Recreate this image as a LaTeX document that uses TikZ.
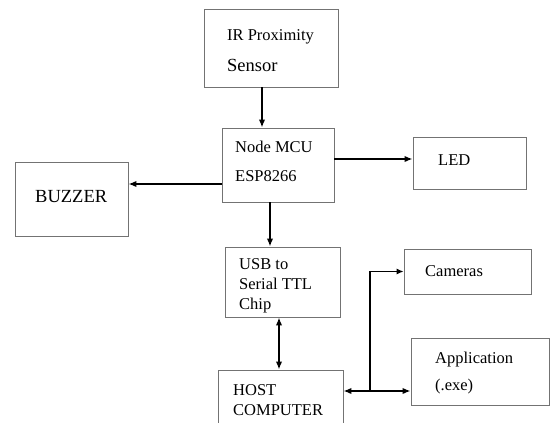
\documentclass[tikz,border=0pt]{standalone}
\usepackage{fontspec}
\setmainfont{Liberation Serif}
\usetikzlibrary{arrows.meta}
\begin{document}
\begin{tikzpicture}[x=1pt,y=-1pt,
  box/.style={draw=black!55,line width=0.9pt,rectangle,inner sep=0pt},
  lbl/.style={anchor=base west,inner sep=0pt,text=black,font=\fontsize{16.5}{18}\selectfont},
  big/.style={lbl,font=\fontsize{18.5}{20}\selectfont},
  tip/.style={Latex[length=8pt,width=6.5pt]},
  arr/.style={line width=1.7pt,-{Latex[length=8pt,width=6.5pt]}},
  darr/.style={line width=1.7pt,{Latex[length=8pt,width=6.5pt]}-{Latex[length=8pt,width=6.5pt]}},
  thin/.style={line width=1.1pt,-{Latex[length=7pt,width=6pt]}}]
\clip (0,0) rectangle (550,423);
\fill[white] (0,0) rectangle (550,423);
% boxes
\node[box,minimum width=134pt,minimum height=78pt] (ir) at (271,48) {};
\node[box,minimum width=112pt,minimum height=74pt] (mcu) at (278,165) {};
\node[box,minimum width=113pt,minimum height=52pt] (led) at (469.5,163) {};
\node[box,minimum width=113pt,minimum height=74pt] (buz) at (71.5,199) {};
\node[box,minimum width=115pt,minimum height=70pt] (usb) at (282.5,282) {};
\node[box,minimum width=127pt,minimum height=45pt] (cam) at (467.5,271.5) {};
\node[box,minimum width=138pt,minimum height=67pt] (app) at (480,371.5) {};
\node[box,minimum width=125pt,minimum height=70pt] (host) at (280.5,405) {};
% texts
\node[lbl] (t1) at (227,40) {IR Proximity};
\node[big] (t2) at (227,71) {Sensor};
\node[lbl] (t3) at (235,152) {Node MCU};
\node[lbl] (t4) at (235,181) {ESP8266};
\node[lbl] (t5) at (438,165) {LED};
\node[big] (t6) at (35,202) {BUZZER};
\node[lbl] (t7) at (239,269) {USB to};
\node[lbl] (t8) at (239,289) {Serial TTL};
\node[lbl] (t9) at (239,309) {Chip};
\node[lbl] (t10) at (425,276) {Cameras};
\node[lbl] (t11) at (435,363) {Application};
\node[lbl] (t12) at (435,390) {(.exe)};
\node[lbl] (t13) at (233,395) {HOST};
\node[lbl] (t14) at (233,415) {COMPUTER};
% connectors
\draw[arr] ([xshift=-9pt]ir.south) -- ([xshift=-9pt]ir.south |- mcu.north);
\draw[arr] (mcu.east |- 0,159) -- (led.west |- 0,159);
\draw[arr] (mcu.west |- 0,184) -- (buz.east |- 0,184);
\draw[arr] ([xshift=-8pt]mcu.south) -- ([xshift=-8pt]mcu.south |- usb.north);
\draw[darr] ([xshift=-3.5pt]usb.south) -- ([xshift=-3.5pt]usb.south |- host.north);
\coordinate (br) at (370,391);
\draw[darr] (host.east |- br) -- (app.west |- br);
\draw[thin] (br) |- (cam.west);
\end{tikzpicture}
\end{document}
